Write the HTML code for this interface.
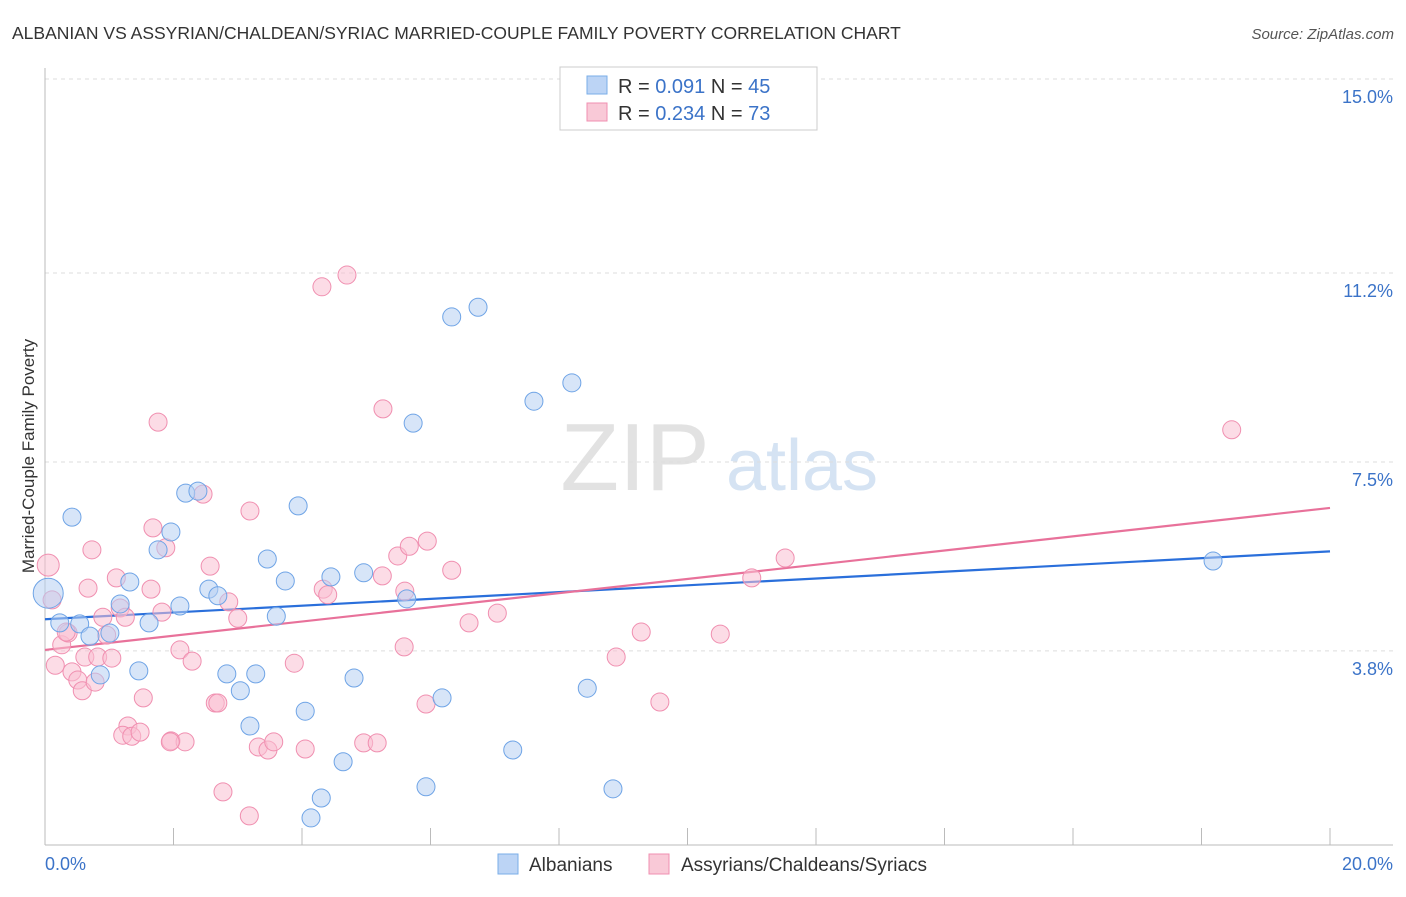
<!DOCTYPE html>
<html><head><meta charset="utf-8"><style>
body{margin:0;background:#fff;font-family:"Liberation Sans",sans-serif}
svg text{font-family:"Liberation Sans",sans-serif}
</style></head><body>
<svg id="chart" width="1406" height="892" xmlns="http://www.w3.org/2000/svg">
<text x="12" y="39" font-size="17.5" fill="#333">ALBANIAN VS ASSYRIAN/CHALDEAN/SYRIAC MARRIED-COUPLE FAMILY POVERTY CORRELATION CHART</text>
<text x="1394" y="39" font-size="15" fill="#555" text-anchor="end" font-style="italic">Source: ZipAtlas.com</text>
<text transform="translate(34,456) rotate(-90)" font-size="17" fill="#333" text-anchor="middle">Married-Couple Family Poverty</text>
<g>
<text x="635" y="490" font-size="96" fill="#e2e2e2" text-anchor="middle" font-family="Liberation Serif">ZIP</text>
<text x="802" y="490" font-size="72" fill="#d5e3f3" text-anchor="middle">atlas</text>
</g>
<g id="grid"></g><g id="axes"></g><g id="lines"></g><g id="pts"></g>
<g>
<rect x="560" y="67" width="257" height="63" fill="#fff" stroke="#ccc"/>
<rect x="587" y="76" width="20" height="18" fill="#bcd4f5" stroke="#7aaee8"/>
<text x="618" y="93" font-size="20" fill="#333">R = <tspan fill="#3b73c8">0.091</tspan>   N = <tspan fill="#3b73c8">45</tspan></text>
<rect x="587" y="103" width="20" height="18" fill="#f9c9d7" stroke="#f08fb0"/>
<text x="618" y="120" font-size="20" fill="#333">R = <tspan fill="#3b73c8">0.234</tspan>   N = <tspan fill="#3b73c8">73</tspan></text>
</g>
<g>
<rect x="498" y="854" width="20" height="20" fill="#bcd4f5" stroke="#7aaee8"/>
<text x="529" y="871" font-size="19" fill="#333">Albanians</text>
<rect x="649" y="854" width="20" height="20" fill="#f9c9d7" stroke="#f08fb0"/>
<text x="681" y="871" font-size="19" fill="#333">Assyrians/Chaldeans/Syriacs</text>
</g>
</svg>
<script>
const yTicks=[3.8,7.5,11.2,15.0];
const yTickLabels=["3.8%","7.5%","11.2%","15.0%"];
const xTickLabels=["0.0%","20.0%"];
const bluePx=[[48,593],[72,517],[60,623],[80,624],[90,636],[110,633],[100,675],[120,604],[130,582],[139,671],[149,623],[158,550],[171,532],[180,606],[186,493],[198,491],[209,589],[218,596],[227,674],[240,691],[250,726],[256,674],[267,559],[276,616],[285,581],[298,506],[305,711],[311,818],[321,798],[331,577],[343,762],[354,678],[364,573],[407,599],[413,423],[426,787],[442,698],[452,317],[478,307],[513,750],[534,401],[572,383],[587,688],[613,789],[1213,561]];
const pinkPx=[[48,565],[52,600],[55,665],[62,645],[68,633],[72,672],[78,680],[82,691],[85,657],[92,550],[95,682],[98,657],[103,617],[107,635],[112,658],[116,578],[120,608],[125,617],[128,726],[123,735],[132,736],[140,732],[143,698],[151,589],[153,528],[158,422],[162,612],[166,548],[171,741],[180,650],[185,742],[192,661],[203,494],[210,566],[215,703],[218,703],[223,792],[229,602],[238,618],[250,511],[249,816],[258,747],[268,750],[274,742],[294,663],[305,749],[322,287],[323,589],[328,595],[347,275],[364,743],[377,743],[382,576],[383,409],[398,556],[404,647],[409,546],[427,541],[426,704],[452,570],[469,623],[497,613],[616,657],[641,632],[660,702],[720,634],[752,578],[785,558],[1232,430],[405,591],[88,588],[66,632],[170,742]];
// convert read pixel positions to data values (x in %, y in %)
const blueX=bluePx.map(p=>+((p[0]-45)/64.25).toFixed(2)), blueY=bluePx.map(p=>+((845-p[1])/51.07).toFixed(2));
const pinkX=pinkPx.map(p=>+((p[0]-45)/64.25).toFixed(2)), pinkY=pinkPx.map(p=>+((845-p[1])/51.07).toFixed(2));
const blueTrend=[4.42,5.75], pinkTrend=[3.82,6.6];
const X=v=>45+v*64.25, Y=v=>845-v*51.07;
const NS="http://www.w3.org/2000/svg";
function mk(tag,attrs,parent){const e=document.createElementNS(NS,tag);for(const k in attrs)e.setAttribute(k,attrs[k]);document.getElementById(parent).appendChild(e);return e;}
yTicks.forEach((t,i)=>{
 const l=mk('line',{x1:45,x2:1393,y1:Y(t),y2:Y(t),stroke:'#ddd','stroke-dasharray':'4,4'},'grid');
 
 
 const tx=mk('text',{x:1393,y:Y(t)+24,'font-size':18,fill:'#3b73c8','text-anchor':'end'},'grid');
 tx.textContent=yTickLabels[i];
 
 
});
let a=mk('line',{x1:45,x2:45,y1:68,y2:845,stroke:'#bbb'},'axes');

a=mk('line',{x1:45,x2:1393,y1:845,y2:845,stroke:'#bbb'},'axes');

for(let i=0;i<=10;i++){const t=mk('line',{x1:X(i*2),x2:X(i*2),y1:828,y2:845,stroke:'#bbb'},'axes');
 }
[[0,'start'],[20,'end']].forEach((d,i)=>{const t=mk('text',{x:i?1393:45,y:870,'font-size':18,fill:'#3b73c8','text-anchor':d[1]},'axes');t.textContent=xTickLabels[i];
 });
function dots(xs,ys,fill,stroke,name){xs.forEach((x,i)=>{const r=(i==0)?(name=='albanian-point'?15:11):9;
 const c=mk('circle',{cx:X(x),cy:Y(ys[i]),r:r,fill:fill,'fill-opacity':0.55,stroke:stroke,'stroke-width':1},'pts');
 });}
dots(pinkX,pinkY,'#f9c0d2','#f08fb0','assyrian-point');
dots(blueX,blueY,'#b6d0f3','#6fa4e6','albanian-point');
let tl=mk('line',{x1:X(0),y1:Y(blueTrend[0]),x2:X(20),y2:Y(blueTrend[1]),stroke:'#2a6fdb','stroke-width':2.2},'lines');

tl=mk('line',{x1:X(0),y1:Y(pinkTrend[0]),x2:X(20),y2:Y(pinkTrend[1]),stroke:'#e8719a','stroke-width':2.2},'lines');

</script>
</body></html>
